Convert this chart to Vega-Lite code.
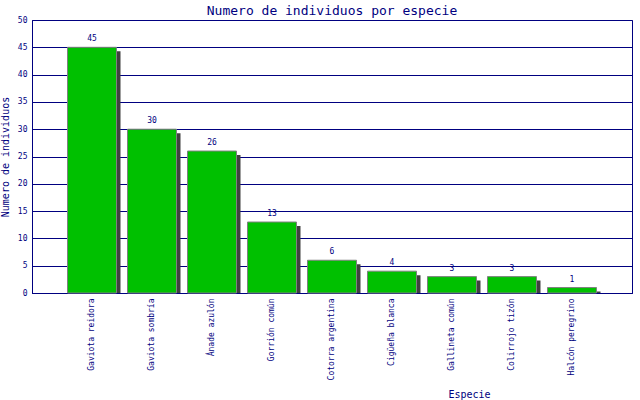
{
  "$schema": "https://vega.github.io/schema/vega-lite/v6.json",
  "width": 600,
  "height": 273,
  "autosize": {"type": "none"},
  "padding": {"left": 32, "top": 20, "right": 8, "bottom": 107},
  "background": "white",
  "title": {
    "text": "Numero de individuos por especie",
    "font": "DejaVu Sans Mono",
    "fontSize": 13,
    "fontWeight": "normal",
    "color": "#000080",
    "anchor": "middle",
    "offset": 5,
    "dy": 7
  },
  "config": {
    "view": {"stroke": "#000080", "strokeWidth": 1},
    "axis": {
      "labelFont": "DejaVu Sans Mono",
      "titleFont": "DejaVu Sans Mono",
      "labelColor": "#000080",
      "titleColor": "#000080",
      "domainColor": "#000080",
      "gridColor": "#000080",
      "gridOpacity": 1,
      "ticks": false,
      "titleFontWeight": "normal",
      "titleFontSize": 10,
      "labelFontSize": 8
    }
  },
  "data": {
    "values": [
      {"especie": "Gaviota reidora", "n": 45},
      {"especie": "Gaviota sombría", "n": 30},
      {"especie": "Ánade azulón", "n": 26},
      {"especie": "Gorrión común", "n": 13},
      {"especie": "Cotorra argentina", "n": 6},
      {"especie": "Cigüeña blanca", "n": 4},
      {"especie": "Gallineta común", "n": 3},
      {"especie": "Colirrojo tizón", "n": 3},
      {"especie": "Halcón peregrino", "n": 1}
    ]
  },
  "encoding": {
    "x": {
      "field": "especie",
      "type": "nominal",
      "sort": null,
      "scale": {"paddingInner": 0.1833, "paddingOuter": 0.5917},
      "axis": {
        "title": "Especie",
        "labelAngle": -90,
        "labelAlign": "right",
        "labelBaseline": "middle",
        "labelPadding": 5,
        "domain": true,
        "titleX": 437,
        "titleY": 101,
        "titleBaseline": "middle",
        "titleAlign": "center"
      }
    },
    "y": {
      "field": "n",
      "type": "quantitative",
      "scale": {"domain": [0, 50], "nice": false},
      "axis": {
        "title": "Numero de individuos",
        "values": [0, 5, 10, 15, 20, 25, 30, 35, 40, 45, 50],
        "grid": true,
        "labelPadding": 5,
        "titlePadding": 7
      }
    }
  },
  "layer": [
    {
      "mark": {"type": "bar", "color": "#404040", "xOffset": 4, "yOffset": 4, "clip": true}
    },
    {
      "mark": {"type": "bar", "color": "#00c000", "stroke": "#808080", "strokeWidth": 1}
    },
    {
      "mark": {
        "type": "text",
        "font": "DejaVu Sans Mono",
        "fontSize": 8,
        "color": "#000080",
        "baseline": "bottom",
        "dy": -4
      },
      "encoding": {"text": {"field": "n", "type": "quantitative"}}
    }
  ]
}
